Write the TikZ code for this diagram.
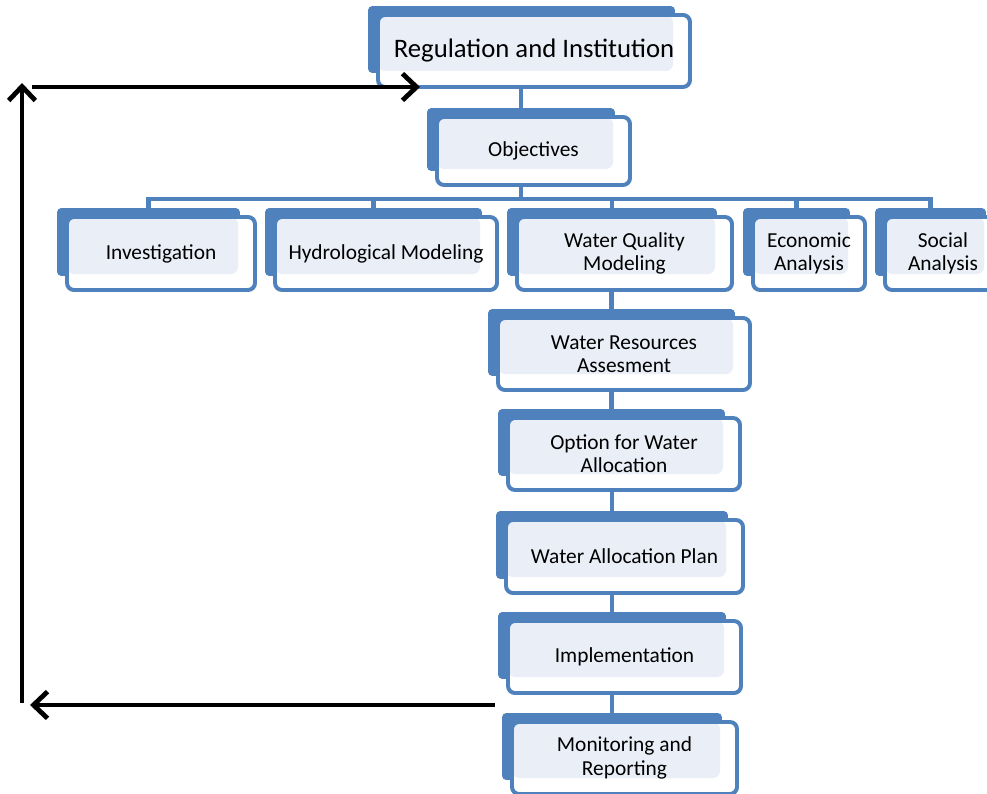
\documentclass[tikz,border=0pt]{standalone}
\usepackage{fontspec}
\setmainfont{Carlito}
\usetikzlibrary{arrows.meta,positioning,fit,calc,backgrounds}
\definecolor{boxcol}{RGB}{79,129,189}
\definecolor{fillcol}{RGB}{234,239,247}
\tikzset{
  bx/.style={rectangle,draw=boxcol,line width=2.8pt,fill=white,rounded corners=5pt,
    align=center,inner sep=0pt,font=\fontsize{15.2}{16.5}\selectfont,
    path picture={\fill[fillcol] (path picture bounding box.north west)
      rectangle ([shift={(-17,-16)}]path picture bounding box.south east);}},
  sz/.style 2 args={minimum width=#1*0.025cm,minimum height=#2*0.025cm},
  bk/.style={rectangle,fill=boxcol,rounded corners=3pt,inner sep=0pt},
  ln/.style={draw=boxcol,line width=3.4pt},
  fb/.style={draw=black,line width=3.4pt,-{Straight Barb[length=10pt,width=19pt]}}
}
\begin{document}
\begin{tikzpicture}[x=0.025cm,y=-0.025cm]
\useasboundingbox (0,0) rectangle (987,794);
% front boxes
\node[bx,sz={312}{72},font=\fontsize{19}{22}\selectfont](reg) at (534,51){Regulation and Institution};
\node[bx,sz={193}{68}](obj) at (533.5,151){Objectives};
\node[bx,sz={188}{73}](inv) at (161,253.5){Investigation};
\node[bx,sz={222}{73}](hyd) at (386,253.5){Hydrological Modeling};
\node[bx,sz={215}{73}](wqm) at (624.5,253.5){Water Quality\\Modeling};
\node[bx,sz={112}{73}](eco) at (809,253.5){Economic\\Analysis};
\node[bx,sz={116}{73}](soc) at (943,253.5){Social\\Analysis};
\node[bx,sz={252}{72}](wra) at (624,354){Water Resources\\Assesment};
\node[bx,sz={232}{72}](owa) at (624,454){Option for Water\\Allocation};
\node[bx,sz={237}{73}](wap) at (624.5,556.5){Water Allocation Plan};
\node[bx,sz={233}{72}](imp) at (624.5,657){Implementation};
\node[bx,sz={225}{72}](mon) at (624.5,758){Monitoring and\\Reporting};
% shadow blocks behind
\begin{scope}[on background layer]
  \foreach \n in {reg,obj,inv,hyd,wqm,eco,soc,wra,owa,wap,imp,mon}
    \node[bk,fit={($(\n.north west)+(-8,-7)$) ($(\n.south east)+(-17,-16)$)}](\n-b){};
\end{scope}
% tree links
\draw[ln] (reg.south -| obj-b.north) -- (obj-b.north);
\draw[ln] (obj.south -| obj-b.north) -- ++(0,12) coordinate (bus);
\draw[ln] (inv-b.north) |- (bus) -| (soc-b.north);
\foreach \n in {hyd,wqm,eco}{\draw[ln] (\n-b.north) -- (\n-b.north |- bus);}
\foreach \a/\b in {wqm/wra,wra/owa,owa/wap,wap/imp,imp/mon}{\draw[ln] (\a.south -| \b-b.north) -- (\b-b.north);}
% feedback loop
\coordinate (fbs) at (495,705);
\coordinate (fbe) at (30,705);
\coordinate (upb) at (22,703);
\coordinate (upe) at (22,83);
\coordinate (tps) at (32,87);
\coordinate (tpe) at (420,87);
\draw[fb] (fbs) -- (fbe);
\draw[fb] (upb) -- (upe);
\draw[fb] (tps) -- (tpe);
\end{tikzpicture}
\end{document}
